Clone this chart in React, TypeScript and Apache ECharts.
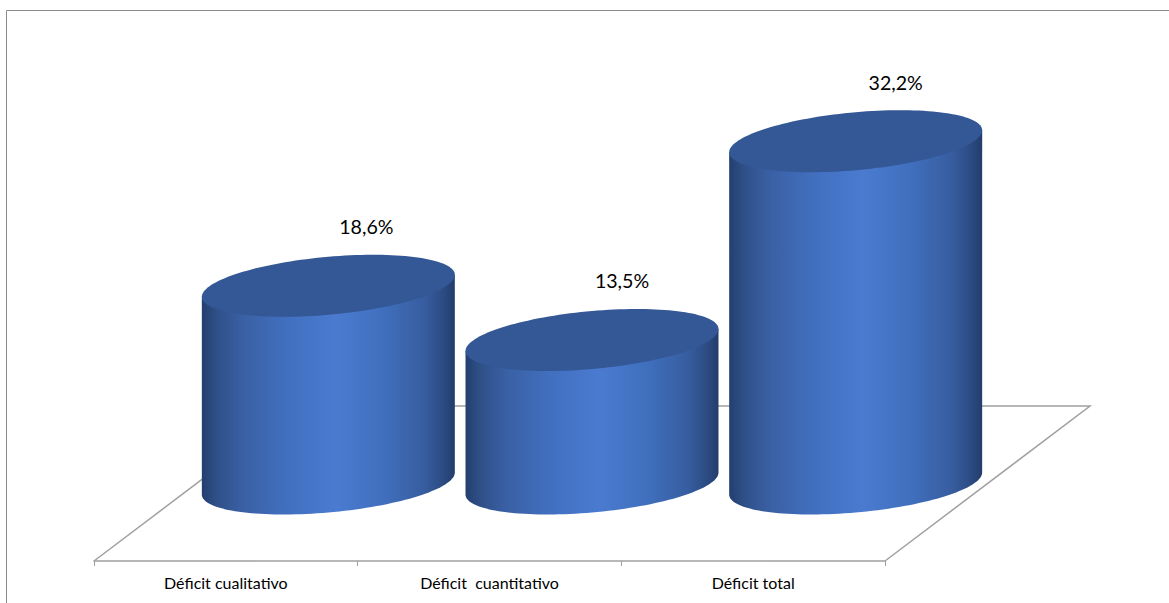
import React, { useEffect, useRef } from "react";
import * as echarts from "echarts";

const categories = ["Déficit cualitativo", "Déficit  cuantitativo", "Déficit total"];
const deficitValues = [18.6, 13.5, 32.2];
const valueLabels = ["18,6%", "13,5%", "32,2%"];

const WIDTH = 1169;
const HEIGHT = 603;
const LINE = "#a0a0a0";
const FONT = "Lato, 'Open Sans', sans-serif";

const FLOOR_SHEAR_X = 205; // horizontal run of the floor's depth
const FLOOR_DEPTH_Y = 155; // vertical run of the floor's depth
const ELLIPSE_SKEW = 11;
const ELLIPSE_RISE = 29;
const CYLINDER_WIDTH_RATIO = 253 / 263.67;
const LABEL_SHIFT_X = [38, 30, 40];
const LABEL_RISE = 59;

const sideStops = [
  { offset: 0, color: "#233f70" },
  { offset: 0.06, color: "#2f5088" },
  { offset: 0.16, color: "#3a60a4" },
  { offset: 0.35, color: "#4270c1" },
  { offset: 0.53, color: "#4a7bd0" },
  { offset: 0.72, color: "#406fbd" },
  { offset: 0.88, color: "#375d9f" },
  { offset: 0.96, color: "#2b4a80" },
  { offset: 1, color: "#233c6b" },
];

function ellipsePoints(cx: number, cy: number, a: number, from: number, to: number, steps: number) {
  const pts: number[][] = [];
  for (let i = 0; i <= steps; i++) {
    const t = from + ((to - from) * i) / steps;
    pts.push([cx + a * Math.cos(t), cy - ELLIPSE_SKEW * Math.cos(t) + ELLIPSE_RISE * Math.sin(t)]);
  }
  return pts;
}

function renderFloor(params: any, api: any) {
  const cs = params.coordSys;
  const frontY = cs.y + cs.height;
  const backY = frontY - FLOOR_DEPTH_Y;
  const left = cs.x;
  const right = cs.x + cs.width;
  const style = { stroke: LINE, lineWidth: 1.5, fill: "none" };
  return {
    type: "group",
    silent: true,
    children: [
      {
        type: "polyline",
        shape: {
          points: [
            [left, frontY],
            [left + FLOOR_SHEAR_X, backY],
            [right + FLOOR_SHEAR_X, backY],
            [right, frontY],
          ],
        },
        style,
      },
    ],
  };
}

function renderCylinder(params: any, api: any) {
  const i = api.value(0);
  const base = api.coord([i, 0]);
  const top = api.coord([i, api.value(1)]);
  const band = api.size([1, 0])[0];
  const a = (band * CYLINDER_WIDTH_RATIO) / 2;
  const cx = base[0] + FLOOR_SHEAR_X / 2;
  const baseY = base[1] - FLOOR_DEPTH_Y / 2;
  const topY = top[1] - FLOOR_DEPTH_Y / 2;
  const body = [
    [cx - a, topY + ELLIPSE_SKEW],
    ...ellipsePoints(cx, baseY, a, Math.PI, 0, 72),
    [cx + a, topY - ELLIPSE_SKEW],
  ];
  return {
    type: "group",
    children: [
      {
        type: "polygon",
        shape: { points: body },
        style: {
          fill: { type: "linear", x: 0, y: 0, x2: 1, y2: 0, colorStops: sideStops },
        },
      },
      {
        type: "polygon",
        shape: { points: ellipsePoints(cx, topY, a, 0, Math.PI * 2, 144) },
        style: { fill: "#345795" },
      },
      {
        type: "text",
        style: {
          x: cx + LABEL_SHIFT_X[i],
          y: topY - LABEL_RISE,
          text: valueLabels[i],
          fill: "#000000",
          font: `19.6px ${FONT}`,
          align: "center",
          verticalAlign: "middle",
        },
      },
    ],
  };
}

export default function App() {
  const ref = useRef<HTMLDivElement>(null);

  useEffect(() => {
    document.body.style.margin = "0";
    const chart = echarts.init(ref.current!, undefined, { renderer: "svg" });
    chart.setOption({
      animation: false,
      backgroundColor: "#ffffff",
      grid: { left: 94, width: 791, top: 29.5, height: 531.5 },
      graphic: [
        {
          type: "polyline",
          silent: true,
          shape: {
            points: [
              [6.5, HEIGHT],
              [6.5, 10.5],
              [WIDTH, 10.5],
            ],
          },
          style: { stroke: "#8c8c8c", lineWidth: 1, fill: "none" },
        },
      ],
      xAxis: {
        type: "category",
        data: categories,
        axisLine: { show: true, lineStyle: { color: LINE, width: 1.5 } },
        axisTick: { show: true, length: 5, lineStyle: { color: LINE, width: 1 } },
        axisLabel: { color: "#000000", fontFamily: FONT, fontSize: 16, margin: 13.5 },
      },
      yAxis: { type: "value", min: 0, max: 50, show: false },
      series: [
        {
          type: "custom",
          coordinateSystem: "cartesian2d",
          silent: true,
          z: 1,
          data: [[0, 0]],
          renderItem: renderFloor,
        },
        {
          type: "custom",
          coordinateSystem: "cartesian2d",
          silent: true,
          z: 3,
          encode: { x: 0, y: 1 },
          data: deficitValues.map((v, i) => [i, v]),
          renderItem: renderCylinder,
        },
      ],
    });
    return () => chart.dispose();
  }, []);

  return <div ref={ref} style={{ width: WIDTH, height: HEIGHT }} />;
}
